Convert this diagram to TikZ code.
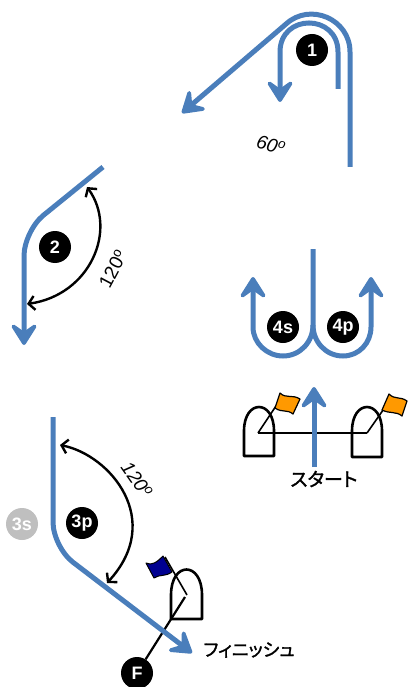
\documentclass[tikz,border=0pt]{standalone}
\usepackage{fontspec}
\setmainfont{Liberation Sans}
\newfontfamily\jpfont[RawFeature=+palt, FakeBold=1.5]{Noto Sans CJK JP}
\usetikzlibrary{arrows.meta}
\definecolor{course}{HTML}{4A7EBB}
\definecolor{mark}{HTML}{FF9900}
\definecolor{finish}{HTML}{000090}
\begin{document}
\begin{tikzpicture}[x=1pt, y=-1pt,
            leg/.style={draw=course, line width=5pt},
            legtip/.style={leg, -{Stealth[length=27pt, width=34pt, inset=12pt, round, line width=4.5pt]}},
            angle/.style={draw=black, line width=2.4pt, {Straight Barb[length=6pt, width=14pt]}-{Straight Barb[length=6pt, width=14pt]}},
            num/.style={circle, fill=black, text=white, minimum size=32pt, inner sep=0pt, font=\fontsize{18}{18}\selectfont\bfseries},
            deg/.style={font=\fontsize{19}{19}\selectfont\itshape, inner sep=0pt},
            boat/.style={draw=black, line width=2.6pt, line join=round},
            pole/.style={draw=black, line width=1.6pt},
            jp/.style={inner sep=0pt, font=\fontsize{19}{19}\selectfont\jpfont}]
            \useasboundingbox (0,0) rectangle (408,687);

            % leg 1
            \coordinate (a1) at (350,167);
            \coordinate (a2) at (350,52);
            \coordinate (a3) at (286,24);
            \coordinate (a4) at (182,113);
            \coordinate (b1) at (338,89);
            \coordinate (b2) at (338,52);
            \coordinate (b3) at (280,52);
            \coordinate (b4) at (280,102);
            \draw[legtip] (a1) -- (a2) .. controls +(0,-33) and +(24,-22) .. (a3) -- (a4);
            \draw[legtip] (b1) -- (b2) .. controls +(0,-38.7) and +(0,-38.7) .. (b3) -- (b4);
            \node[num] (n1) at (312,50) {1};
            \node[deg, rotate=-15] (d60) at (271,145) {60\textsuperscript{o}};

            % leg 2
            \coordinate (c1) at (103,167);
            \coordinate (c2) at (24,231);
            \coordinate (c3) at (24,345);
            \coordinate (e1) at (87,187);
            \coordinate (e2) at (27,304);
            \draw[legtip, rounded corners=25pt] (c1) -- (c2) -- (c3);
            \draw[angle] (e1) .. controls (118,230) and (90,295) .. (e2);
            \node[num] (n2) at (55,247) {2};
            \node[deg, rotate=62, font=\fontsize{19}{19}\selectfont] (d120a) at (113,269) {120\textsuperscript{o}};

            % leg 4
            \coordinate (f1) at (313,249);
            \coordinate (f2) at (313,325);
            \coordinate (f3) at (343,356);
            \coordinate (f4) at (371,327);
            \coordinate (f5) at (371,277);
            \coordinate (f6) at (283,356);
            \coordinate (f7) at (253,327);
            \coordinate (f8) at (253,277);
            \draw[legtip] (f1) -- (f2) .. controls +(0,17) and +(-17,0) .. (f3) .. controls +(16,0) and +(0,16) .. (f4) -- (f5);
            \draw[legtip] (f2) .. controls +(0,17) and +(17,0) .. (f6) .. controls +(-16,0) and +(0,16) .. (f7) -- (f8);
            \node[num] (n4s) at (283,327) {4s};
            \node[num] (n4p) at (343,327) {4p};

            % start
            \coordinate (s1) at (258,433);
            \coordinate (s2) at (367,433);
            \coordinate (s3) at (280,400);
            \coordinate (s4) at (388,403);
            \draw[boat] (244,456) -- (244,431) .. controls (244,399) and (274,399) .. (274,431) -- (274,456) -- cycle;
            \draw[boat] (352,457) -- (352,431) .. controls (352,399) and (382,399) .. (382,431) -- (382,457) -- cycle;
            \draw[pole] (s1) -- (s2);
            \draw[pole] (s1) -- (s3);
            \draw[pole] (s2) -- (s4);
            \draw[draw=black, fill=mark, line width=1.2pt, line join=round] (280,393) .. controls (286,399) and (292,394) .. (300,399) -- (293,414) .. controls (287,409) and (282,413) .. (275,408) -- cycle;
            \draw[draw=black, fill=mark, line width=1.2pt, line join=round] (389,394) .. controls (395,400) and (400,396) .. (407,401) -- (402,416) .. controls (396,411) and (390,414) .. (382,410) -- cycle;
            \coordinate (s5) at (314,467);
            \coordinate (s6) at (314,387);
            \draw[legtip] (s5) -- (s6);
            \node[jp] (start) at (324,479) {スタート};

            % leg 3
            \coordinate (g1) at (53,417);
            \coordinate (g2) at (53,547);
            \coordinate (g3) at (192,653);
            \coordinate (h1) at (60,445);
            \coordinate (h2) at (107,583);
            \coordinate (h3) at (185,597);
            \coordinate (h4) at (187,595);
            \coordinate (h5) at (165,557);
            \draw[angle] (h1) .. controls (110,455) and (165,520) .. (h2);
            \node[num, fill=black!25] (n3s) at (22,524) {3s};
            \node[num] (n3p) at (82,523) {3p};
            \node[deg, rotate=-55] (d120b) at (137,480) {120\textsuperscript{o}};

            % finish
            \node[num] (nf) at (137,673) {F};
            \draw[boat] (171,619) -- (171,595) .. controls (171,561) and (202,561) .. (202,595) -- (202,619) -- cycle;
            \draw[pole] (h4) -- (h5);
            \draw[draw=black, line width=2.2pt] (h3) -- (nf);
            \draw[draw=black, fill=finish, line width=1pt, line join=round] (146,563) .. controls (152,566) and (157,562) .. (163,556) -- (172,572) .. controls (165,577) and (160,574) .. (154,578) -- cycle;
            \draw[legtip, rounded corners=25pt] (g1) -- (g2) -- (g3);
            \node[jp, font=\fontsize{18}{18}\selectfont\jpfont] (finishlbl) at (249,650) {フィニッシュ};
        \end{tikzpicture}
\end{document}
